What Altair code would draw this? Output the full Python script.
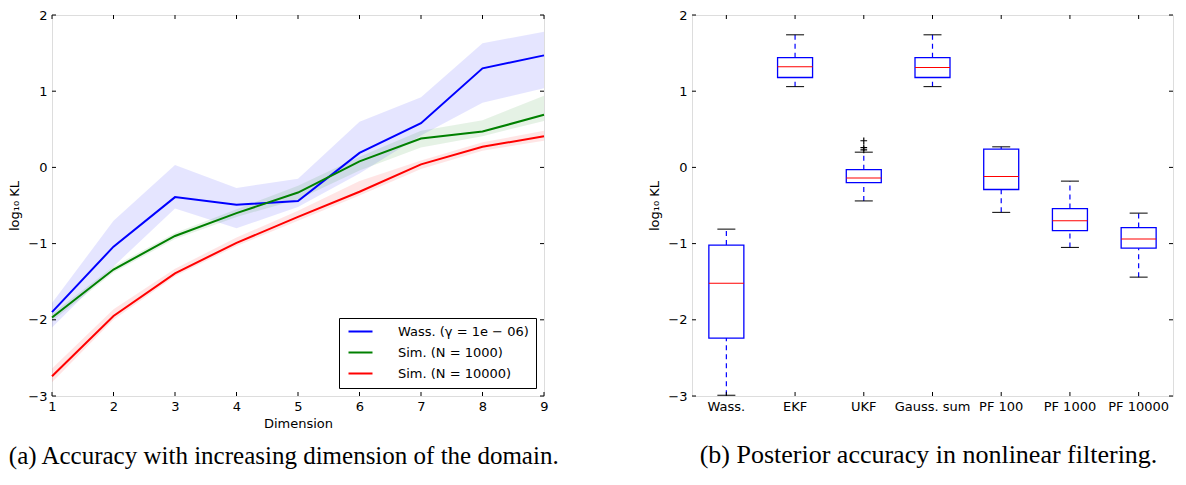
import altair as alt
import pandas as pd

# ---------------- data: panel (a) ----------------
dims = [1, 2, 3, 4, 5, 6, 7, 8, 9]
series_names = ["Wass. (γ = 1e − 06)", "Sim. (N = 1000)", "Sim. (N = 10000)"]
series_colors = ["#0000ff", "#008000", "#ff0000"]

wass_mean = [-1.90, -1.04, -0.39, -0.49, -0.44, 0.19, 0.58, 1.30, 1.47]
wass_lo = [-2.10, -1.30, -0.54, -0.80, -0.52, -0.08, 0.42, 0.85, 1.04]
wass_hi = [-1.78, -0.70, 0.03, -0.27, -0.15, 0.60, 0.92, 1.63, 1.78]

sim1k_mean = [-1.97, -1.34, -0.90, -0.60, -0.33, 0.08, 0.38, 0.47, 0.69]
sim1k_lo = [-2.02, -1.38, -0.94, -0.65, -0.42, -0.04, 0.26, 0.41, 0.61]
sim1k_hi = [-1.92, -1.30, -0.86, -0.55, -0.24, 0.14, 0.48, 0.62, 0.94]

sim10k_mean = [-2.74, -1.95, -1.39, -0.99, -0.65, -0.32, 0.04, 0.27, 0.41]
sim10k_lo = [-2.82, -2.00, -1.43, -1.03, -0.70, -0.37, -0.02, 0.22, 0.35]
sim10k_hi = [-2.64, -1.86, -1.33, -0.92, -0.57, -0.18, 0.09, 0.33, 0.48]

# ---------------- data: panel (b) ----------------
methods = ["Wass.", "EKF", "UKF", "Gauss. sum", "PF 100", "PF 1000", "PF 10000"]
whisk_lo = [-2.99, 1.06, -0.44, 1.06, -0.59, -1.05, -1.44]
q1 = [-2.24, 1.18, -0.20, 1.18, -0.29, -0.83, -1.06]
med = [-1.52, 1.32, -0.14, 1.31, -0.12, -0.70, -0.94]
q3 = [-1.02, 1.44, -0.03, 1.44, 0.24, -0.54, -0.79]
whisk_hi = [-0.81, 1.74, 0.20, 1.74, 0.27, -0.18, -0.60]
flier_method = ["UKF", "UKF", "UKF"]
flier_val = [0.35, 0.26, 0.23]

y_ticks = [-3, -2, -1, 0, 1, 2]

caption_a = "(a) Accuracy with increasing dimension of the domain."
caption_b = "(b) Posterior accuracy in nonlinear filtering."

# ---------------- tables ----------------
rows = []
for name, m, lo, hi in zip(series_names,
                           [wass_mean, sim1k_mean, sim10k_mean],
                           [wass_lo, sim1k_lo, sim10k_lo],
                           [wass_hi, sim1k_hi, sim10k_hi]):
    for d, a, b, c in zip(dims, m, lo, hi):
        rows.append({"series": name, "dim": d, "mean": a, "lo": b, "hi": c})
df_a = pd.DataFrame(rows)
df_box = pd.DataFrame({"method": methods, "lo": whisk_lo, "q1": q1, "med": med,
                       "q3": q3, "hi": whisk_hi})
df_fl = pd.DataFrame({"method": flier_method, "v": flier_val})
df_yt = pd.DataFrame({"v": y_ticks})
df_xt = pd.DataFrame({"dim": dims})
df_mt = pd.DataFrame({"method": methods})

W_A, W_B, H = 492, 481, 381
FONT = "DejaVu Sans"
SERIF = "Liberation Serif"
YTITLE = "log₁₀ KL"

ys = alt.Scale(domain=[-3, 2], nice=False, zero=False)
y_axis = alt.Axis(values=y_ticks, format="d", ticks=False, tickSize=0, domain=False, grid=False,
                  labelFontSize=13, labelFont=FONT, labelPadding=5, labelColor="black",
                  title=YTITLE, titleFontSize=13, titleFont=FONT, titleFontWeight="normal",
                  titlePadding=6, titleColor="black")

# ---------------- panel (a) ----------------
xs = alt.Scale(domain=[1, 9], nice=False, zero=False)
x_axis = alt.Axis(values=dims, format="d", ticks=False, tickSize=0, domain=False, grid=False,
                  labelFontSize=13, labelFont=FONT, labelPadding=4, labelColor="black",
                  labelFlush=False,
                  title="Dimension", titleFontSize=13, titleFont=FONT, titleFontWeight="normal",
                  titlePadding=4, titleColor="black")

band_layers = []
for i, (name, col) in enumerate(zip(series_names, series_colors)):
    enc = dict(
        x=alt.X("dim:Q", scale=xs, title="Dimension", **({"axis": x_axis} if i == 0 else {})),
        y=alt.Y("lo:Q", scale=ys, title=YTITLE, **({"axis": y_axis} if i == 0 else {})),
        y2="hi:Q",
    )
    band_layers.append(
        alt.Chart(df_a).transform_filter(alt.datum.series == name)
        .mark_area(color=col, opacity=0.1).encode(**enc)
    )

lines = alt.Chart(df_a).mark_line(strokeWidth=2).encode(
    x=alt.X("dim:Q", scale=xs, title="Dimension"),
    y=alt.Y("mean:Q", scale=ys, title=YTITLE),
    color=alt.Color("series:N", scale=alt.Scale(domain=series_names, range=series_colors),
                    sort=series_names,
                    legend=alt.Legend(title=None, orient="bottom-right", offset=8,
                                      strokeColor="black", fillColor="white", padding=7,
                                      symbolType="M-2.4,0H2.4", symbolSize=100,
                                      symbolStrokeWidth=2, symbolOffset=8,
                                      labelFontSize=13, labelFont=FONT, labelOffset=31,
                                      rowPadding=7, cornerRadius=0, labelColor="black",
                                      labelLimit=400)),
)
yt_l = alt.Chart(df_yt).mark_rule(color="black").encode(
    y=alt.Y("v:Q", scale=ys, title=YTITLE), x=alt.value(0), x2=alt.value(4))
yt_r_a = alt.Chart(df_yt).mark_rule(color="black").encode(
    y=alt.Y("v:Q", scale=ys, title=YTITLE), x=alt.value(W_A - 4), x2=alt.value(W_A))
xt_b = alt.Chart(df_xt).mark_rule(color="black").encode(
    x=alt.X("dim:Q", scale=xs, title="Dimension"), y=alt.value(H - 4), y2=alt.value(H))
xt_t = alt.Chart(df_xt).mark_rule(color="black").encode(
    x=alt.X("dim:Q", scale=xs, title="Dimension"), y=alt.value(0), y2=alt.value(4))

panel_a = alt.layer(*band_layers, lines, yt_l, yt_r_a, xt_b, xt_t).properties(
    width=W_A, height=H,
    title=alt.TitleParams(caption_a,
                          orient="bottom", anchor="start", frame="bounds",
                          font=SERIF, fontSize=25, fontWeight="normal",
                          color="black", offset=14),
)

# ---------------- panel (b) ----------------
xb_scale = alt.Scale(domain=methods, paddingInner=0, paddingOuter=0)
xb_axis = alt.Axis(ticks=False, tickSize=0, domain=False, grid=False, labelAngle=0,
                   labelFontSize=13, labelFont=FONT, labelPadding=4, labelColor="black",
                   title=None)


def xb(axis=False):
    if axis:
        return alt.X("method:N", scale=xb_scale, axis=xb_axis, title=None)
    return alt.X("method:N", scale=xb_scale, title=None)


w_lo = alt.Chart(df_box).mark_rule(color="#0000ff", strokeDash=[5, 4], strokeWidth=1.2).encode(
    x=xb(True), y=alt.Y("lo:Q", scale=ys, axis=y_axis, title=YTITLE), y2="q1:Q")
w_hi = alt.Chart(df_box).mark_rule(color="#0000ff", strokeDash=[5, 4], strokeWidth=1.2).encode(
    x=xb(), y=alt.Y("q3:Q", scale=ys, title=YTITLE), y2="hi:Q")
cap_lo = alt.Chart(df_box).mark_tick(color="black", size=18, thickness=1, opacity=1).encode(
    x=xb(), y=alt.Y("lo:Q", scale=ys, title=YTITLE))
cap_hi = alt.Chart(df_box).mark_tick(color="black", size=18, thickness=1, opacity=1).encode(
    x=xb(), y=alt.Y("hi:Q", scale=ys, title=YTITLE))
box = alt.Chart(df_box).mark_bar(fill="transparent", stroke="#0000ff", strokeWidth=1.3, size=35).encode(
    x=xb(), y=alt.Y("q1:Q", scale=ys, title=YTITLE), y2="q3:Q")
median = alt.Chart(df_box).mark_tick(color="#ff0000", size=35, thickness=1, opacity=1).encode(
    x=xb(), y=alt.Y("med:Q", scale=ys, title=YTITLE))
fliers = alt.Chart(df_fl).mark_point(shape="M-1,0H1M0,-1V1", filled=False, color="black",
                                     size=45, strokeWidth=1.2, opacity=1).encode(
    x=xb(), y=alt.Y("v:Q", scale=ys, title=YTITLE))
yt_l_b = alt.Chart(df_yt).mark_rule(color="black").encode(
    y=alt.Y("v:Q", scale=ys, title=YTITLE), x=alt.value(0), x2=alt.value(4))
yt_r_b = alt.Chart(df_yt).mark_rule(color="black").encode(
    y=alt.Y("v:Q", scale=ys, title=YTITLE), x=alt.value(W_B - 4), x2=alt.value(W_B))
mt_b = alt.Chart(df_mt).mark_rule(color="black").encode(
    x=xb(), y=alt.value(H - 4), y2=alt.value(H))
mt_t = alt.Chart(df_mt).mark_rule(color="black").encode(
    x=xb(), y=alt.value(0), y2=alt.value(4))

panel_b = alt.layer(w_lo, w_hi, cap_lo, cap_hi, box, median, fliers,
                    yt_l_b, yt_r_b, mt_b, mt_t).properties(
    width=W_B, height=H,
    title=alt.TitleParams(caption_b,
                          orient="bottom", anchor="middle", frame="group",
                          font=SERIF, fontSize=26, fontWeight="normal",
                          color="black", offset=29, dx=-4),
)

chart = alt.hconcat(panel_a, panel_b, spacing=87).resolve_legend(
    color="independent"
).resolve_scale(color="independent").properties(
    padding={"left": 0, "top": 0, "right": 0, "bottom": 0}
).configure_view(stroke="black", strokeWidth=1).configure(background="white")

chart.save("out.html", embed_options={"renderer": "svg", "actions": False})
